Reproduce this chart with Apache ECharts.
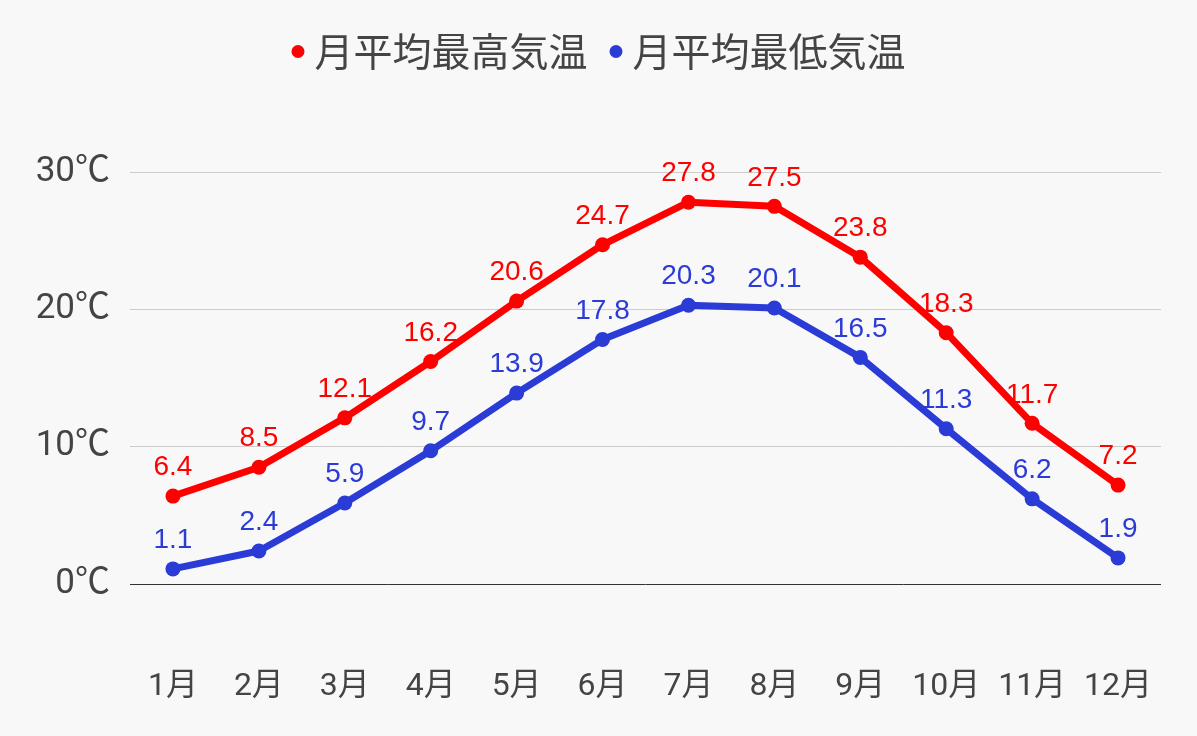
<!DOCTYPE html>
<html><head><meta charset="utf-8">
<script src="https://cdn.jsdelivr.net/npm/echarts@6/dist/echarts.min.js"></script>
<style>html,body{margin:0;padding:0;background:#f8f8f8;}#c{width:1197px;height:736px;}</style>
</head><body><div id="c"></div>
<script>
const categories = ['1月','2月','3月','4月','5月','6月','7月','8月','9月','10月','11月','12月'];
const maxTemps = [6.4, 8.5, 12.1, 16.2, 20.6, 24.7, 27.8, 27.5, 23.8, 18.3, 11.7, 7.2];
const minTemps = [1.1, 2.4, 5.9, 9.7, 13.9, 17.8, 20.3, 20.1, 16.5, 11.3, 6.2, 1.9];
const seriesNames = ['月平均最高気温', '月平均最低気温'];
const colors = ['#ff0000', '#2b3bd6'];

const chart = echarts.init(document.getElementById('c'), null, {renderer: 'canvas'});
function mk(name, data, color) {
  return {
    name: name, type: 'line', data: data,
    symbol: 'circle', symbolSize: 15,
    lineStyle: {width: 7, color: color},
    itemStyle: {color: color},
    label: {show: true, position: 'top', distance: 7, color: color,
      fontSize: 28, fontFamily: 'Liberation Sans, Arial, sans-serif'},
    z: 3
  };
}
chart.setOption({
  backgroundColor: '#f8f8f8',
  animation: false,
  legend: {
    top: 27, left: 'center',
    icon: 'circle', itemWidth: 13, itemHeight: 13, itemGap: 22,
    textStyle: {fontSize: 39, color: '#444', fontFamily: 'Noto Sans CJK JP', padding: [0, 0, 0, 5]},
    data: seriesNames
  },
  grid: {left: 130, right: 36, top: 172, bottom: 152},
  xAxis: {
    type: 'category', data: categories, boundaryGap: true,
    axisLine: {show: false}, axisTick: {show: false},
    axisLabel: {interval: 0, margin: 87, fontSize: 32, color: '#444', fontFamily: 'Roboto, Noto Sans CJK JP'}
  },
  yAxis: {
    type: 'value', min: 0, max: 30, interval: 10,
    axisLine: {show: false}, axisTick: {show: false},
    axisLabel: {margin: 20, fontSize: 35, color: '#444', fontFamily: 'Roboto, Noto Sans CJK JP',
      formatter: v => v + '℃'},
    splitLine: {lineStyle: {color: ['#333', '#ccc', '#ccc', '#ccc'], width: 1}}
  },
  series: [mk(seriesNames[0], maxTemps, colors[0]), mk(seriesNames[1], minTemps, colors[1])]
});
</script></body></html>
